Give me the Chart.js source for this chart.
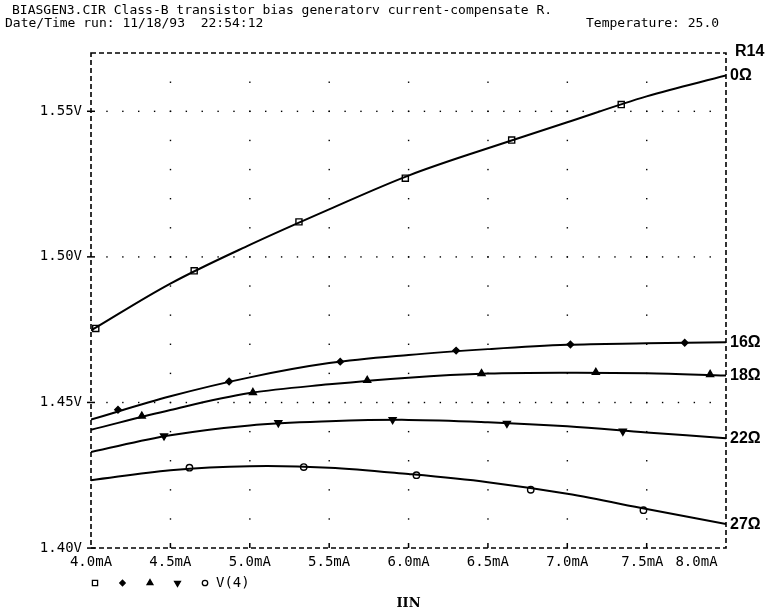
<!DOCTYPE html>
<html>
<head>
<meta charset="utf-8">
<script src="https://cdn.jsdelivr.net/npm/chart.js@4.4.0/dist/chart.umd.min.js"></script>
<style>
  html, body { margin: 0; padding: 0; background: #fff; }
  #wrap { width: 777px; height: 611px; }
</style>
</head>
<body>
<div id="wrap"><canvas id="grafico" width="777" height="611"></canvas></div>
<script>
// IIN sweep (mA) and V(4) for each value of R14
const correnteMA = [4.0, 4.5, 5.0, 5.5, 6.0, 6.5, 7.0, 7.5, 8.0];
const v4_0ohm  = [1.4747, 1.4908, 1.5041, 1.5163, 1.5279, 1.5373, 1.5462, 1.5551, 1.5623];
const v4_16ohm = [1.4441, 1.4521, 1.4586, 1.4635, 1.4663, 1.4683, 1.4698, 1.4703, 1.4707];
const v4_18ohm = [1.4406, 1.4474, 1.4532, 1.4562, 1.4585, 1.4599, 1.4602, 1.4600, 1.4592];
const v4_22ohm = [1.4330, 1.4387, 1.4421, 1.4435, 1.4440, 1.4432, 1.4418, 1.4397, 1.4377];
const v4_27ohm = [1.4233, 1.4267, 1.4281, 1.4276, 1.4254, 1.4226, 1.4186, 1.4134, 1.4082];

// where the probe put its trace markers
const marca0I  = [4.03, 4.65, 5.31, 5.98, 6.65, 7.34];
const marca0V  = [1.4754, 1.4952, 1.5120, 1.5270, 1.5401, 1.5523];
const marca16I = [4.17, 4.87, 5.57, 6.30, 7.02, 7.74];
const marca16V = [1.4475, 1.4572, 1.4640, 1.4678, 1.4699, 1.4705];
const marca18I = [4.32, 5.02, 5.74, 6.46, 7.18, 7.90];
const marca18V = [1.4453, 1.4534, 1.4576, 1.4599, 1.4603, 1.4596];
const marca22I = [4.46, 5.18, 5.90, 6.62, 7.35];
const marca22V = [1.4385, 1.4430, 1.4441, 1.4428, 1.4401];
const marca27I = [4.62, 5.34, 6.05, 6.77, 7.48];
const marca27V = [1.4276, 1.4278, 1.4250, 1.4200, 1.4130];

const rotulosR = ['0\u03A9', '16\u03A9', '18\u03A9', '22\u03A9', '27\u03A9'];
const titulo1 = 'BIASGEN3.CIR Class-B transistor bias generatorv current-compensate R.';
const titulo2 = 'Date/Time run: 11/18/93  22:54:12';
const temperatura = 'Temperature: 25.0';
const nomeTraco = 'V(4)';

const MONO = '"DejaVu Sans Mono", monospace';

const series = [
  { v: v4_0ohm,  mi: marca0I,  mv: marca0V,  style: 'rect',     radius: 4.3, rot: 0,   fill: '#fff' },
  { v: v4_16ohm, mi: marca16I, mv: marca16V, style: 'rectRot',  radius: 3.2, rot: 0,   fill: '#000' },
  { v: v4_18ohm, mi: marca18I, mv: marca18V, style: 'triangle', radius: 4,   rot: 0,   fill: '#000' },
  { v: v4_22ohm, mi: marca22I, mv: marca22V, style: 'triangle', radius: 4,   rot: 180, fill: '#000' },
  { v: v4_27ohm, mi: marca27I, mv: marca27V, style: 'circle',   radius: 3.2, rot: 0,   fill: '#fff' }
];

const datasets = [];
series.forEach((s, i) => {
  datasets.push({
    label: rotulosR[i],
    data: correnteMA.map((x, k) => ({ x: x, y: s.v[k] })),
    borderColor: '#000',
    borderWidth: 2,
    pointRadius: 0,
    tension: 0.35,
    fill: false
  });
  datasets.push({
    label: rotulosR[i] + ' marca',
    data: s.mi.map((x, k) => ({ x: x, y: s.mv[k] })),
    showLine: false,
    pointStyle: s.style,
    pointRadius: s.radius,
    pointRotation: s.rot,
    pointBackgroundColor: s.fill,
    pointBorderColor: '#000',
    pointBorderWidth: 1.4
  });
});

// dotted grid, dashed frame and small tick marks
const moldura = {
  id: 'moldura',
  beforeDatasetsDraw(chart) {
    const { ctx, chartArea: a, scales: { x, y } } = chart;
    ctx.save();
    ctx.fillStyle = '#000';
    const nY = Math.round((y.max - y.min) / 0.01);
    const nX = Math.round((x.max - x.min) / 0.1);
    x.ticks.forEach(t => {
      if (t.value <= x.min + 1e-6 || t.value >= x.max - 1e-6) return;
      const px = x.getPixelForValue(t.value);
      for (let k = 1; k < nY; k++) {
        const py = y.getPixelForValue(y.min + k * 0.01);
        ctx.fillRect(px - 0.6, py - 0.6, 1.4, 1.4);
      }
      ctx.fillRect(px - 0.7, a.bottom - 5, 1.5, 5);
    });
    y.ticks.forEach(t => {
      if (t.label == null || t.label === '') return;
      const py = y.getPixelForValue(t.value);
      if (t.value > y.min + 1e-6) {
        for (let k = 1; k < nX; k++) {
          const px = x.getPixelForValue(x.min + k * 0.1);
          ctx.fillRect(px - 0.6, py - 0.6, 1.4, 1.4);
        }
      }
      ctx.fillRect(a.left - 4, py - 0.7, 8, 1.5);
    });
    ctx.strokeStyle = '#000';
    ctx.lineWidth = 1.6;
    ctx.setLineDash([5, 3]);
    ctx.strokeRect(a.left, a.top, a.right - a.left, a.bottom - a.top);
    ctx.restore();
  },
  afterDraw(chart) {
    const { ctx, chartArea: a, scales: { y } } = chart;
    ctx.save();
    ctx.fillStyle = '#000';
    ctx.textBaseline = 'middle';
    ctx.textAlign = 'left';

    // header
    ctx.font = '13px ' + MONO;
    ctx.fillText(titulo1, 12, 11);
    ctx.fillText(titulo2, 5, 24);
    ctx.fillText(temperatura, 586, 24);

    // R14 labels at the end of each curve
    ctx.font = 'bold 16px "Liberation Sans", Arial, sans-serif';
    ctx.fillText('R14', a.right + 9, a.top - 1);
    series.forEach((s, i) => {
      const py = y.getPixelForValue(s.v[s.v.length - 1]);
      ctx.fillText(rotulosR[i], a.right + 4, py);
    });

    // trace legend under the axis
    const ly = 583;
    series.forEach((s, i) => {
      const lx = 95 + i * 27.5;
      ctx.fillStyle = s.fill;
      ctx.strokeStyle = '#000';
      ctx.lineWidth = 1.3;
      if (Chart.helpers && Chart.helpers.drawPoint) {
        Chart.helpers.drawPoint(ctx, { pointStyle: s.style, rotation: s.rot, radius: s.radius * 0.85, borderWidth: 1.3 }, lx, ly);
      }
    });
    ctx.fillStyle = '#000';
    ctx.font = '14px ' + MONO;
    ctx.fillText(nomeTraco, 216, ly);
    ctx.restore();
  }
};

const ctx = document.getElementById('grafico').getContext('2d');

new Chart(ctx, {
  type: 'line',
  data: { datasets: datasets },
  options: {
    responsive: false,
    animation: false,
    devicePixelRatio: 1,
    layout: { padding: { left: 0, right: 51, top: 53, bottom: 0 } },
    plugins: {
      legend: { display: false },
      tooltip: { enabled: false }
    },
    scales: {
      x: {
        type: 'linear',
        min: 4.0,
        max: 8.0,
        grid: { display: false, drawTicks: false },
        border: { display: false },
        ticks: {
          stepSize: 0.5,
          padding: 6,
          autoSkip: false,
          maxRotation: 0,
          color: '#000',
          font: { family: MONO, size: 14 },
          callback: function(v) {
            // last labels are pulled left like the original plot
            if (Math.abs(v - 8.0) < 1e-6) return v.toFixed(1) + 'mA       ';
            if (Math.abs(v - 7.5) < 1e-6) return v.toFixed(1) + 'mA ';
            return v.toFixed(1) + 'mA';
          }
        },
        title: {
          display: true,
          text: 'IIN',
          color: '#000',
          font: { family: '"DejaVu Serif", serif', size: 13, weight: 'bold' },
          padding: { top: 0, bottom: 0 }
        },
        afterFit: function(s) { s.height = 63; s.paddingLeft = 0; s.paddingRight = 0; }
      },
      y: {
        min: 1.40,
        max: 1.57,
        grid: { display: false, drawTicks: false },
        border: { display: false },
        ticks: {
          stepSize: 0.05,
          padding: 9,
          color: '#000',
          font: { family: MONO, size: 14 },
          callback: function(v) {
            const k = Math.round(v / 0.05);
            if (Math.abs(v - k * 0.05) > 1e-6) return null;
            return v.toFixed(2) + 'V';
          }
        },
        afterFit: function(s) { s.width = 91; s.paddingTop = 0; s.paddingBottom = 0; }
      }
    }
  },
  plugins: [moldura]
});
</script>
</body>
</html>
